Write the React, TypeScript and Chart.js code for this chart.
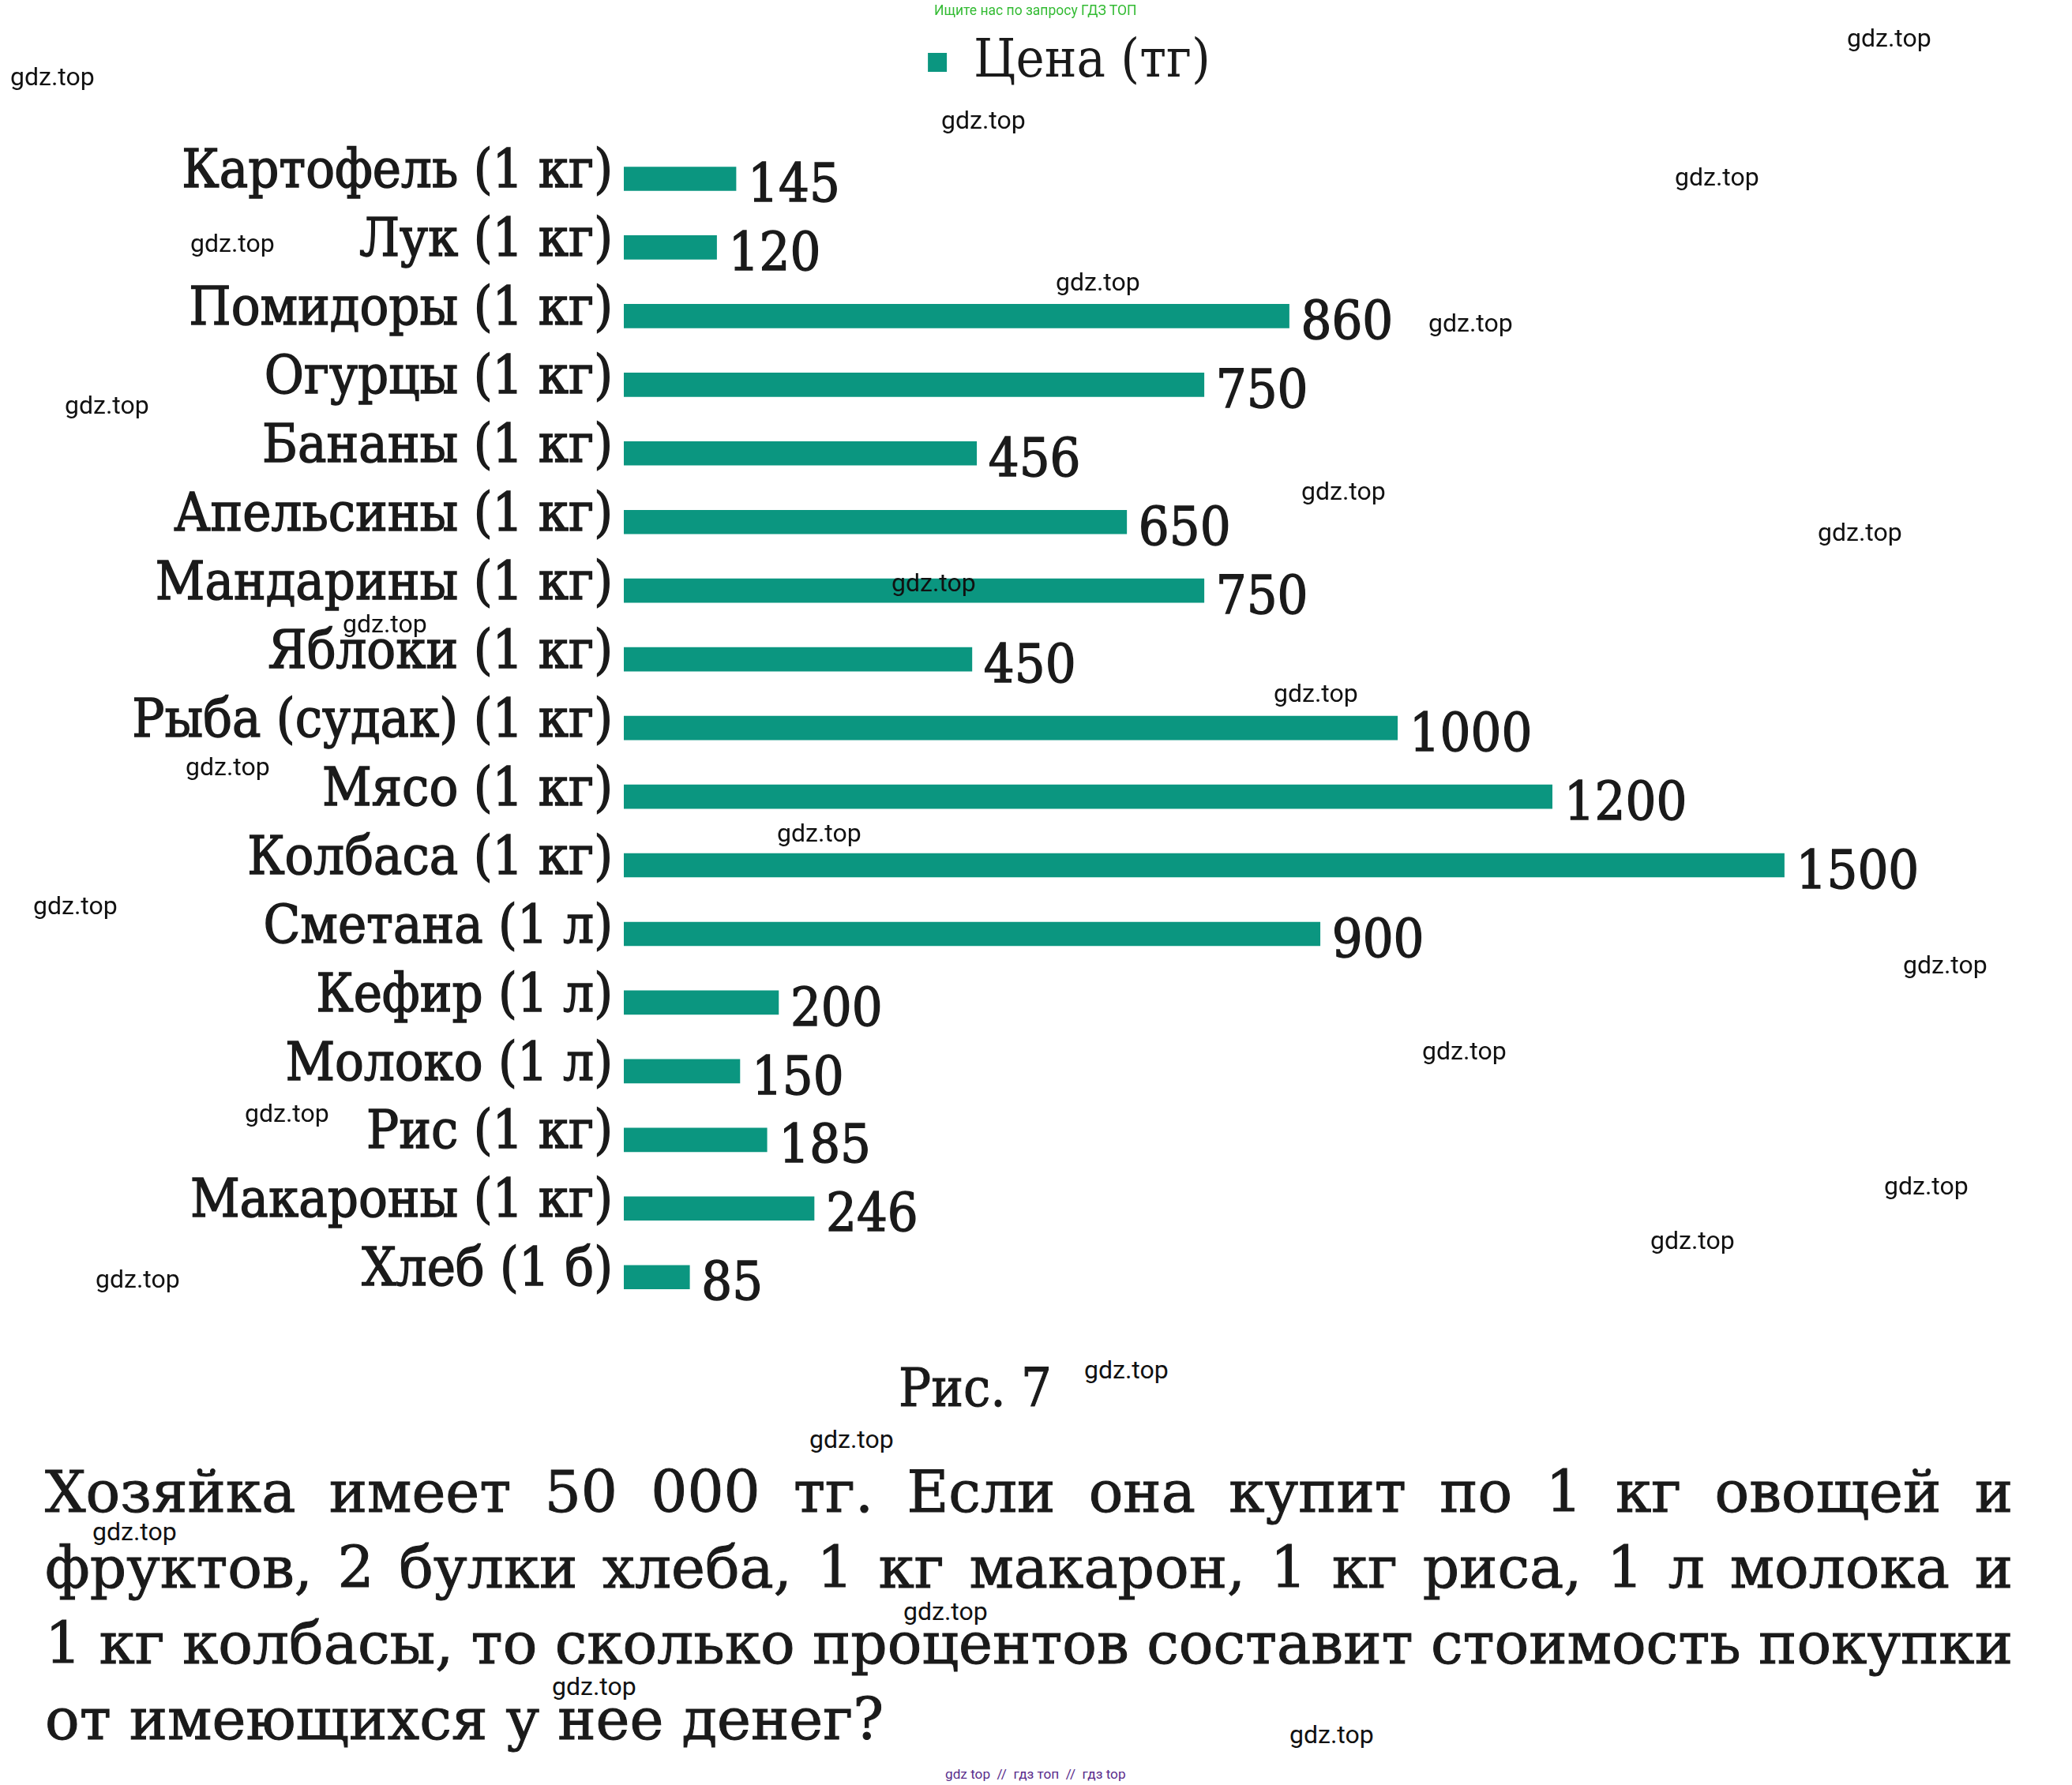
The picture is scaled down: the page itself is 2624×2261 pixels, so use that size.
import React, { useEffect, useRef } from "react";
import { Chart, registerables } from "chart.js";

Chart.register(...registerables);

// ---------- data ----------
const categories = [
  "Картофель (1 кг)",
  "Лук (1 кг)",
  "Помидоры (1 кг)",
  "Огурцы (1 кг)",
  "Бананы (1 кг)",
  "Апельсины (1 кг)",
  "Мандарины (1 кг)",
  "Яблоки (1 кг)",
  "Рыба (судак) (1 кг)",
  "Мясо (1 кг)",
  "Колбаса (1 кг)",
  "Сметана (1 л)",
  "Кефир (1 л)",
  "Молоко (1 л)",
  "Рис (1 кг)",
  "Макароны (1 кг)",
  "Хлеб (1 б)",
];

const prices = [145, 120, 860, 750, 456, 650, 750, 450, 1000, 1200, 1500, 900, 200, 150, 185, 246, 85];

const seriesLabel = "Цена (тг)";
const caption = "Рис. 7";
const paragraphLines = [
  "Хозяйка имеет 50 000 тг. Если она купит по 1 кг овощей и",
  "фруктов, 2 булки хлеба, 1 кг макарон, 1 кг риса, 1 л молока и",
  "1 кг колбасы, то сколько процентов составит стоимость покупки",
  "от имеющихся у нее денег?",
];
const topNote = "Ищите нас по запросу ГДЗ ТОП";
const bottomNote = "gdz top  //  гдз топ  //  гдз top";
const watermarkText = "gdz.top";

// watermark overlay spots (page px: left, vertical centre)
const watermarkSpots: [number, number][] = [
  [2339, 50], [13, 99], [1192, 154], [2121, 226], [241, 310], [1337, 359],
  [1809, 411], [82, 515], [1648, 624], [2302, 676], [1129, 740], [434, 792],
  [1613, 880], [235, 973], [984, 1057], [42, 1149], [2410, 1224], [1801, 1333],
  [310, 1412], [2386, 1504], [2090, 1573], [121, 1622], [1373, 1737], [1025, 1825],
  [117, 1942], [1144, 2043], [699, 2138], [1633, 2199],
];

const SERIF = "'DejaVu Serif Condensed', 'DejaVu Serif', serif";
const SERIF_WIDE = "'DejaVu Serif', serif";
const BAR_COLOR = "#0b9680";
const TEXT_COLOR = "#1a1a1a";

const valueLabels = {
  id: "valueLabels",
  afterDatasetsDraw(chart: any) {
    const ctx = chart.ctx;
    const meta = chart.getDatasetMeta(0);
    const data = chart.data.datasets[0].data;
    ctx.save();
    ctx.font = `68px ${SERIF}`;
    ctx.fillStyle = TEXT_COLOR;
    ctx.strokeStyle = TEXT_COLOR;
    ctx.lineWidth = 1.4;
    ctx.textBaseline = "middle";
    ctx.textAlign = "left";
    meta.data.forEach((bar: any, i: number) => {
      const t = String(data[i]);
      ctx.strokeText(t, bar.x + 15, bar.y + 11);
      ctx.fillText(t, bar.x + 15, bar.y + 11);
    });
    ctx.restore();
  },
};

function BarChart() {
  const ref = useRef<HTMLCanvasElement | null>(null);
  useEffect(() => {
    if (!ref.current) return;
    const chart = new Chart(ref.current, {
      type: "bar",
      data: {
        labels: categories,
        datasets: [
          {
            label: seriesLabel,
            data: prices,
            backgroundColor: BAR_COLOR,
            borderWidth: 0,
            barThickness: 30,
          },
        ],
      },
      options: {
        indexAxis: "y",
        responsive: false,
        animation: false,
        devicePixelRatio: 1,
        layout: { padding: { top: 35, left: 0, right: 0, bottom: 0 } },
        plugins: {
          legend: {
            display: true,
            position: "top",
            labels: {
              boxWidth: 24,
              boxHeight: 24,
              padding: 10,
              color: TEXT_COLOR,
              font: { family: SERIF, size: 68 },
            },
          },
          tooltip: { enabled: false },
        },
        scales: {
          x: {
            position: "top",
            min: 0,
            max: 1872,
            ticks: { display: false },
            grid: { display: false, drawTicks: false },
            border: { display: false },
            afterFit: (s: any) => {
              s.height = 60;
            },
          },
          y: {
            position: "left",
            ticks: {
              autoSkip: false,
              color: TEXT_COLOR,
              padding: 14,
              labelOffset: -7,
              textStrokeColor: TEXT_COLOR,
              textStrokeWidth: 1.4,
              font: { family: SERIF, size: 68 },
            },
            grid: { display: false, drawTicks: false },
            border: { display: false },
            afterFit: (s: any) => {
              s.width = 706;
            },
          },
        },
      },
      plugins: [valueLabels],
    });
    return () => chart.destroy();
  }, []);
  return (
    <canvas
      ref={ref}
      width={2540}
      height={1716}
      style={{ position: "absolute", left: 84, top: 0, width: 2540, height: 1716 }}
    />
  );
}

export default function App() {
  return (
    <div
      style={{
        position: "absolute",
        left: 0,
        top: 0,
        width: 2624,
        height: 2261,
        overflow: "hidden",
        background: "#ffffff",
      }}
    >
      <BarChart />
      <div
        style={{
          position: "absolute",
          left: 1183,
          top: 4,
          font: "17.5px Roboto",
          lineHeight: "18px",
          color: "#33bb33",
          whiteSpace: "nowrap",
        }}
      >
        {topNote}
      </div>
      <div
        style={
          {
            position: "absolute",
            left: 935,
            top: 1724,
            width: 600,
            textAlign: "center",
            fontFamily: SERIF,
            fontSize: 68,
            lineHeight: "68px",
            color: TEXT_COLOR,
            WebkitTextStroke: "1px #1a1a1a",
          } as React.CSSProperties
        }
      >
        {caption}
      </div>
      {paragraphLines.map((line, i) => {
        const justified = i < paragraphLines.length - 1;
        return (
          <div
            key={i}
            style={
              {
                position: "absolute",
                left: 57,
                top: 1842 + i * 96,
                width: 2492,
                fontFamily: SERIF_WIDE,
                fontSize: 72.5,
                lineHeight: "96px",
                wordSpacing: justified ? "-8px" : "0px",
                color: TEXT_COLOR,
                whiteSpace: "nowrap",
                WebkitTextStroke: "1px #1a1a1a",
                textAlign: justified ? "justify" : "left",
                textAlignLast: justified ? "justify" : "left",
              } as React.CSSProperties
            }
          >
            {line}
          </div>
        );
      })}
      <div
        style={{
          position: "absolute",
          left: 1197,
          top: 2238,
          font: "17.2px Roboto",
          lineHeight: "18px",
          color: "#5a2d8c",
          whiteSpace: "pre",
        }}
      >
        {bottomNote}
      </div>
      {watermarkSpots.map(([x, y], i) => (
        <div
          key={"w" + i}
          style={{
            position: "absolute",
            left: x,
            top: y - 18,
            font: "32px Roboto",
            lineHeight: "32px",
            color: "#111111",
            whiteSpace: "nowrap",
            pointerEvents: "none",
          }}
        >
          {watermarkText}
        </div>
      ))}
    </div>
  );
}
